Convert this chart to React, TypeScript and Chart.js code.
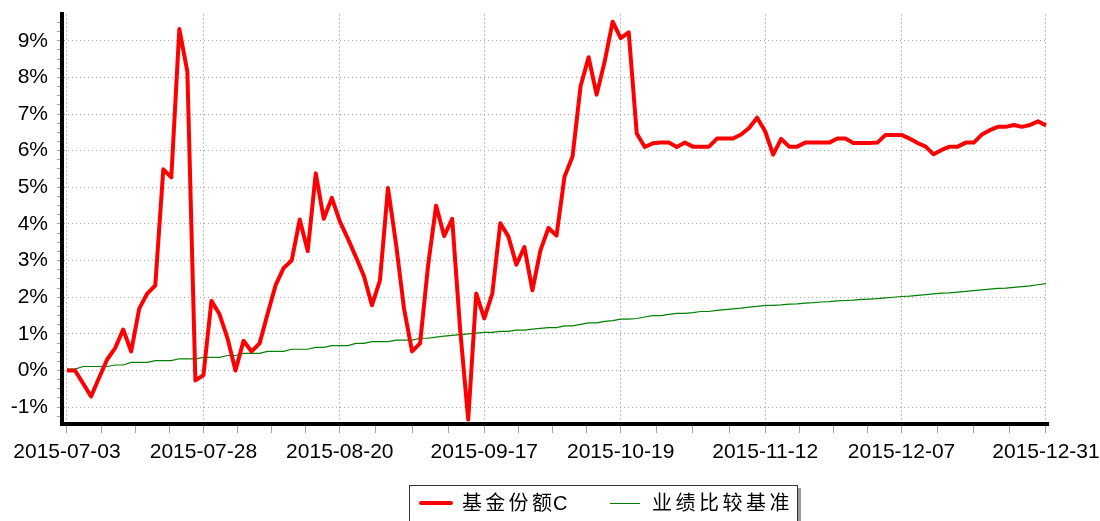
import React, { useEffect, useRef } from "react";
import { Chart, registerables } from "chart.js";

Chart.register(...registerables);

// Trading days (x categories)
const dates: string[] = [
  "2015-07-03", "2015-07-06", "2015-07-07", "2015-07-08", "2015-07-09", "2015-07-10", "2015-07-13", "2015-07-14", "2015-07-15", "2015-07-16",
  "2015-07-17", "2015-07-20", "2015-07-21", "2015-07-22", "2015-07-23", "2015-07-24", "2015-07-27", "2015-07-28", "2015-07-29", "2015-07-30",
  "2015-07-31", "2015-08-03", "2015-08-04", "2015-08-05", "2015-08-06", "2015-08-07", "2015-08-10", "2015-08-11", "2015-08-12", "2015-08-13",
  "2015-08-14", "2015-08-17", "2015-08-18", "2015-08-19", "2015-08-20", "2015-08-21", "2015-08-24", "2015-08-25", "2015-08-26", "2015-08-27",
  "2015-08-28", "2015-08-31", "2015-09-01", "2015-09-02", "2015-09-07", "2015-09-08", "2015-09-09", "2015-09-10", "2015-09-11", "2015-09-14",
  "2015-09-15", "2015-09-16", "2015-09-17", "2015-09-18", "2015-09-21", "2015-09-22", "2015-09-23", "2015-09-24", "2015-09-25", "2015-09-28",
  "2015-09-29", "2015-09-30", "2015-10-08", "2015-10-09", "2015-10-12", "2015-10-13", "2015-10-14", "2015-10-15", "2015-10-16", "2015-10-19",
  "2015-10-20", "2015-10-21", "2015-10-22", "2015-10-23", "2015-10-26", "2015-10-27", "2015-10-28", "2015-10-29", "2015-10-30", "2015-11-02",
  "2015-11-03", "2015-11-04", "2015-11-05", "2015-11-06", "2015-11-09", "2015-11-10", "2015-11-11", "2015-11-12", "2015-11-13", "2015-11-16",
  "2015-11-17", "2015-11-18", "2015-11-19", "2015-11-20", "2015-11-23", "2015-11-24", "2015-11-25", "2015-11-26", "2015-11-27", "2015-11-30",
  "2015-12-01", "2015-12-02", "2015-12-03", "2015-12-04", "2015-12-07", "2015-12-08", "2015-12-09", "2015-12-10", "2015-12-11", "2015-12-14",
  "2015-12-15", "2015-12-16", "2015-12-17", "2015-12-18", "2015-12-21", "2015-12-22", "2015-12-23", "2015-12-24", "2015-12-25", "2015-12-28",
  "2015-12-29", "2015-12-30", "2015-12-31",
];

// Cumulative return of the fund (share class C), in %
const seriesC: number[] = [
  0.0, 0.0, -0.35, -0.71, -0.2, 0.3, 0.61, 1.12, 0.52, 1.69,
  2.1, 2.32, 5.49, 5.27, 9.32, 8.16, -0.27, -0.13, 1.9, 1.54,
  0.88, 0.0, 0.81, 0.52, 0.74, 1.55, 2.33, 2.8, 3.0, 4.12,
  3.26, 5.38, 4.14, 4.71, 4.07, 3.6, 3.1, 2.58, 1.78, 2.46,
  4.98, 3.46, 1.69, 0.52, 0.74, 2.87, 4.5, 3.67, 4.14, 1.1,
  -1.34, 2.1, 1.42, 2.1, 4.02, 3.66, 2.89, 3.37, 2.19, 3.28,
  3.89, 3.68, 5.29, 5.84, 7.76, 8.55, 7.53, 8.43, 9.52, 9.07,
  9.23, 6.47, 6.1, 6.2, 6.22, 6.22, 6.1, 6.22, 6.11, 6.11,
  6.11, 6.33, 6.33, 6.33, 6.44, 6.62, 6.9, 6.53, 5.89, 6.32,
  6.11, 6.11, 6.22, 6.22, 6.22, 6.22, 6.33, 6.33, 6.21, 6.21,
  6.21, 6.22, 6.43, 6.43, 6.43, 6.33, 6.21, 6.11, 5.9, 6.02,
  6.11, 6.11, 6.22, 6.22, 6.44, 6.56, 6.65, 6.65, 6.7, 6.65,
  6.7, 6.8, 6.69,
];

// Benchmark cumulative return, in %
const benchmark: number[] = [
  0.04, 0.04, 0.11, 0.11, 0.11, 0.11, 0.15, 0.15, 0.22, 0.22,
  0.22, 0.27, 0.27, 0.27, 0.32, 0.32, 0.32, 0.36, 0.36, 0.36,
  0.41, 0.41, 0.47, 0.47, 0.47, 0.52, 0.52, 0.52, 0.58, 0.58,
  0.58, 0.63, 0.63, 0.68, 0.68, 0.68, 0.74, 0.74, 0.79, 0.79,
  0.79, 0.83, 0.83, 0.83, 0.88, 0.88, 0.91, 0.94, 0.96, 0.98,
  1.0, 1.02, 1.04, 1.04, 1.07, 1.07, 1.1, 1.1, 1.13, 1.15,
  1.17, 1.17, 1.22, 1.22, 1.26, 1.3, 1.3, 1.34, 1.36, 1.4,
  1.4, 1.42, 1.46, 1.5, 1.5, 1.53, 1.56, 1.56, 1.58, 1.61,
  1.61, 1.64, 1.66, 1.68, 1.7, 1.73, 1.75, 1.78, 1.78, 1.79,
  1.81, 1.82, 1.84, 1.85, 1.87, 1.88, 1.9, 1.91, 1.92, 1.94,
  1.95, 1.96, 1.98, 2.0, 2.02, 2.03, 2.05, 2.07, 2.09, 2.11,
  2.12, 2.14, 2.16, 2.18, 2.2, 2.22, 2.24, 2.25, 2.27, 2.29,
  2.31, 2.34, 2.37,
];

const xTickLabels: string[] = [
  "2015-07-03", "2015-07-28", "2015-08-20", "2015-09-17",
  "2015-10-19", "2015-11-12", "2015-12-07", "2015-12-31",
];
const yMajorTicks: number[] = [-1, 0, 1, 2, 3, 4, 5, 6, 7, 8, 9];
const legendLabels: string[] = ["基金份额C", "业绩比较基准"];

const FONT = "'Liberation Sans', Arial, Helvetica, sans-serif";

const legendPlugin = {
  id: "boxLegend",
  afterDraw(chart: any) {
    const ctx = chart.ctx as CanvasRenderingContext2D;
    ctx.save();
    // shadow
    ctx.fillStyle = "#9a9a9a";
    ctx.fillRect(412, 488, 389, 45);
    // box
    ctx.fillStyle = "#ffffff";
    ctx.fillRect(409, 485, 389, 45);
    ctx.strokeStyle = "#333333";
    ctx.lineWidth = 1;
    ctx.strokeRect(409.5, 485.5, 388, 45);
    // red sample
    ctx.strokeStyle = "#ff0000";
    ctx.lineWidth = 4;
    ctx.lineCap = "round";
    ctx.beginPath();
    ctx.moveTo(421, 503);
    ctx.lineTo(451, 503);
    ctx.stroke();
    // green sample
    ctx.strokeStyle = "#008000";
    ctx.lineWidth = 1;
    ctx.lineCap = "butt";
    ctx.beginPath();
    ctx.moveTo(610, 503.5);
    ctx.lineTo(640, 503.5);
    ctx.stroke();
    // texts
    ctx.fillStyle = "#000000";
    ctx.textBaseline = "alphabetic";
    ctx.font = `20px 'Liberation Sans', 'Noto Sans CJK SC', sans-serif`;
    const t1 = Array.from(legendLabels[0]);
    t1.forEach((ch, k) => {
      const x = k < t1.length - 1 ? 462 + 23.3 * k : 553;
      ctx.fillText(ch, x, 509.5);
    });
    const t2 = Array.from(legendLabels[1]);
    t2.forEach((ch, k) => {
      ctx.fillText(ch, 652 + 23.5 * k, 509.5);
    });
    ctx.restore();
  },
};

export default function App() {
  const ref = useRef<HTMLCanvasElement>(null);

  useEffect(() => {
    const canvas = ref.current;
    if (!canvas) return;

    const majorIdx = xTickLabels.map((d) => dates.indexOf(d));
    const xTicks: number[] = [];
    majorIdx.forEach((v, k) => {
      xTicks.push(v);
      if (k < majorIdx.length - 1) {
        const next = majorIdx[k + 1];
        for (let j = 1; j < 4; j++) xTicks.push(v + ((next - v) * j) / 4);
      }
    });
    const isMajorX = (v: number) => majorIdx.indexOf(v) >= 0;

    const yTicks: number[] = [];
    for (let k = -5; k <= 38; k++) yTicks.push(k / 4);
    const isMajorY = (v: number) => yMajorTicks.indexOf(v) >= 0;

    const chart = new Chart(canvas, {
      type: "line",
      data: {
        datasets: [
          {
            label: legendLabels[0],
            data: seriesC.map((y, i) => ({ x: i, y })),
            borderColor: "#ff0000",
            backgroundColor: "#ff0000",
            borderWidth: 4,
            pointRadius: 0,
            tension: 0,
            fill: false,
            borderJoinStyle: "round",
          },
          {
            label: legendLabels[1],
            data: benchmark.map((y, i) => ({ x: i, y })),
            borderColor: "#008000",
            backgroundColor: "#008000",
            borderWidth: 1.2,
            pointRadius: 0,
            tension: 0,
            fill: false,
          },
        ],
      },
      options: {
        responsive: false,
        animation: false,
        devicePixelRatio: 1,
        layout: { padding: { top: 14, right: 52, bottom: 0, left: 0 } },
        plugins: { legend: { display: false }, tooltip: { enabled: false } },
        scales: {
          x: {
            type: "linear",
            min: -0.623,
            max: 122.25,
            bounds: "data",
            afterBuildTicks: (s: any) => {
              s.ticks = xTicks.map((v) => ({ value: v }));
            },
            afterFit: (s: any) => {
              s.height = 97;
              s.paddingLeft = 0;
              s.paddingRight = 0;
            },
            ticks: {
              autoSkip: false,
              maxRotation: 0,
              minRotation: 0,
              padding: 7,
              color: "#000000",
              font: { size: 21, family: FONT },
              callback: (v: any) => (isMajorX(v) ? dates[v] : ""),
            },
            grid: {
              color: (c: any) => (c.tick && isMajorX(c.tick.value) ? "#c4c4c4" : "rgba(0,0,0,0)"),
              lineWidth: 1,
              tickLength: 9,
              tickColor: "#a0a0a0",
              tickWidth: 1,
            },
            border: { display: true, color: "#000000", width: 4, dash: [2, 2] },
          },
          y: {
            type: "linear",
            min: -1.46,
            max: 9.73,
            bounds: "data",
            afterBuildTicks: (s: any) => {
              s.ticks = yTicks.map((v) => ({ value: v }));
            },
            afterFit: (s: any) => {
              s.width = 62;
              s.paddingTop = 0;
              s.paddingBottom = 0;
            },
            ticks: {
              autoSkip: false,
              padding: 9,
              color: "#000000",
              font: { size: 21, family: FONT },
              callback: (v: any) => (isMajorY(v) ? `${v}%` : ""),
            },
            grid: {
              color: (c: any) => (c.tick && isMajorY(c.tick.value) ? "#a8a8a8" : "rgba(0,0,0,0)"),
              lineWidth: 1,
              tickLength: 5,
              tickColor: "#a0a0a0",
              tickWidth: 1,
            },
            border: { display: true, color: "#000000", width: 4, dash: [1, 3] },
          },
        },
      },
      plugins: [legendPlugin],
    } as any);

    return () => chart.destroy();
  }, []);

  return (
    <div
      style={{
        position: "fixed",
        left: 0,
        top: 0,
        width: 1100,
        height: 521,
        background: "#ffffff",
        overflow: "hidden",
      }}
    >
      <canvas ref={ref} width={1100} height={521} style={{ display: "block" }} />
    </div>
  );
}
